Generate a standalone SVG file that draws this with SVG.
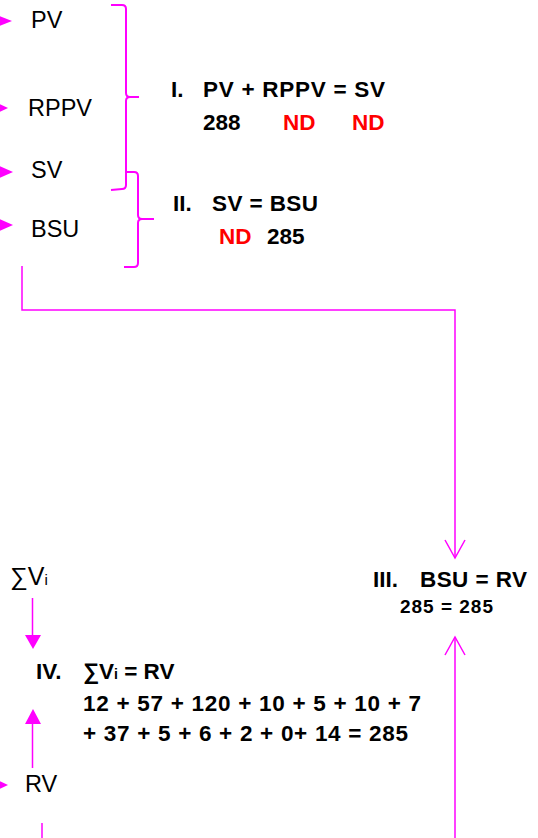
<svg xmlns="http://www.w3.org/2000/svg" width="538" height="838" viewBox="0 0 538 838">
<style>
.lbl{font-family:"Liberation Sans",Arial,sans-serif;font-size:23.5px;fill:#000}
.b{font-family:"Liberation Sans",Arial,sans-serif;font-size:22.5px;font-weight:bold;fill:#000}
.r{fill:#FF0000}
.ln{fill:none;stroke:#FF00FF;stroke-width:1.5}
.br{fill:none;stroke:#FF00FF;stroke-width:2}
.tri{fill:#FF00FF}
</style>
<defs>
<marker id="open" markerWidth="22" markerHeight="22" refX="20" refY="11" orient="auto" markerUnits="userSpaceOnUse">
<path d="M2,1 L20,11 L2,21" fill="none" stroke="#FF00FF" stroke-width="1.5"/>
</marker>
</defs>
<rect width="538" height="838" fill="#fff"/>

<g id="node-PV"><polygon class="tri" points="-3,15 12,21 -3,27"/><text class="lbl" x="31" y="28">PV</text></g>
<g id="node-RPPV"><polygon class="tri" points="-3,103 8,108 -3,113"/><text class="lbl" x="28" y="116">RPPV</text></g>
<g id="node-SV"><polygon class="tri" points="-3,165 13,172 -3,179"/><text class="lbl" x="31" y="178">SV</text></g>
<g id="node-BSU"><polygon class="tri" points="-3,218 13,225 -3,232"/><text class="lbl" x="31" y="237">BSU</text></g>

<g id="brace-I"><path class="br" d="M111,5 L122,5 Q126,5 126,9 L126,93 Q126,97 130,97 L139,97 M130,97 Q126,97 126,101 L126,185 Q126,189 122,189 L111,190"/></g>
<g id="brace-II"><path class="br" d="M126,172 L134,172 Q138,172 138,176 L138,215 Q138,219 142,219 L154,219 M142,219 Q138,219 138,223 L138,263 Q138,267 134,267 L124,267"/></g>

<g id="eq-I">
<text class="b" x="171" y="97">I.</text>
<text class="b" x="203" y="97" textLength="182" lengthAdjust="spacing">PV + RPPV = SV</text>
<text class="b" x="203" y="130">288</text>
<text class="b r" x="283" y="130">ND</text>
<text class="b r" x="352" y="130">ND</text>
</g>
<g id="eq-II">
<text class="b" x="173" y="211">II.</text>
<text class="b" x="212" y="211" textLength="106" lengthAdjust="spacing">SV = BSU</text>
<text class="b r" x="219" y="244">ND</text>
<text class="b" x="267" y="244">285</text>
</g>
<g id="eq-III">
<text class="b" x="373" y="587">III.</text>
<text class="b" x="420" y="587" textLength="107" lengthAdjust="spacing">BSU = RV</text>
<text class="b" x="400" y="613" style="font-size:19px" textLength="93" lengthAdjust="spacing">285 = 285</text>
</g>
<g id="node-SumVi"><text class="lbl" x="10" y="585" style="font-size:25px">∑V<tspan style="font-size:15px">i</tspan></text></g>
<g id="eq-IV">
<text class="b" x="36" y="679">IV.</text>
<text class="b" x="83" y="679">∑V<tspan style="font-size:14px">i</tspan> = RV</text>
<text class="b" x="83" y="711" textLength="338" lengthAdjust="spacing">12 + 57 + 120 + 10 + 5 + 10 + 7</text>
<text class="b" x="83" y="741" textLength="325" lengthAdjust="spacing">+ 37 + 5 + 6 + 2 + 0+ 14 = 285</text>
</g>
<g id="node-RV"><polygon class="tri" points="-3,780 8,785 -3,790"/><text class="lbl" x="25" y="792">RV</text></g>

<g id="connectors">
<path class="ln" d="M22,266 L22,310 L455,310 L455,558" marker-end="url(#open)"/>
<path class="ln" d="M455,838 L455,637" marker-end="url(#open)"/>
<line class="ln" x1="32.5" y1="598" x2="32.5" y2="636" stroke-width="2"/>
<polygon class="tri" points="25,635 41,635 33,649"/>
<line class="ln" x1="32.5" y1="768" x2="32.5" y2="723" stroke-width="2"/>
<polygon class="tri" points="25,724 41,724 33,709"/>
<line class="ln" x1="42" y1="823" x2="42" y2="838" stroke-width="2"/>
</g>
</svg>
